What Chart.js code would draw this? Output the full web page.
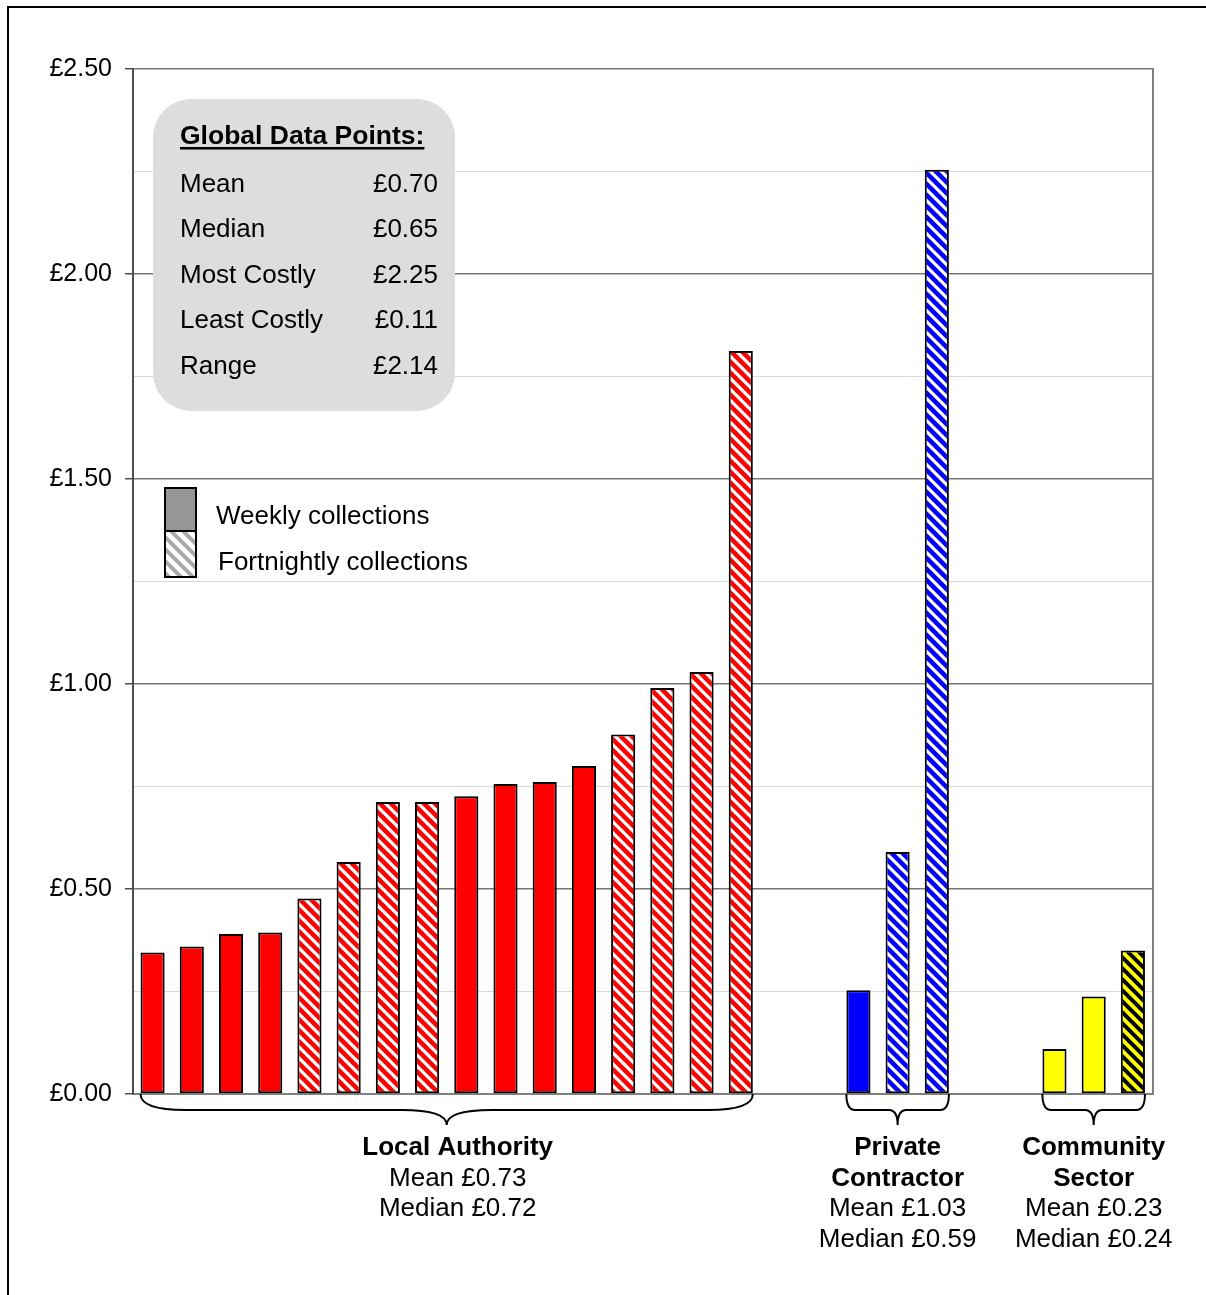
<!DOCTYPE html>
<html>
<head>
<meta charset="utf-8">
<script src="https://cdn.jsdelivr.net/npm/chart.js@4.4.0/dist/chart.umd.min.js"></script>
<style>
    html, body { margin: 0; padding: 0; background: #fff; }
    #wrap { position: relative; width: 1206px; height: 1295px; }
</style>
</head>
<body>
<div id="wrap"><canvas id="chart"></canvas></div>
<script>
// ── Data (cost per household, £) ─────────────────────────────────────────────
const localAuthority    = [0.345, 0.36, 0.39, 0.394, 0.477, 0.566, 0.712, 0.712, 0.726, 0.756, 0.761, 0.80, 0.877, 0.99, 1.029, 1.812];
const localFreq         = ["W", "W", "W", "W", "F", "F", "F", "F", "W", "W", "W", "W", "F", "F", "F", "F"];
const privateContractor = [0.253, 0.59, 2.254];
const privateFreq       = ["W", "F", "F"];
const communitySector   = [0.11, 0.238, 0.35];
const communityFreq     = ["W", "W", "F"];

const groupNames  = [["Local Authority"], ["Private", "Contractor"], ["Community", "Sector"]];
const groupStats  = [["Mean £0.73", "Median £0.72"], ["Mean £1.03", "Median £0.59"], ["Mean £0.23", "Median £0.24"]];
const globalTitle  = "Global Data Points:";
const globalLabels = ["Mean", "Median", "Most Costly", "Least Costly", "Range"];
const globalValues = ["£0.70", "£0.65", "£2.25", "£0.11", "£2.14"];
const legendLabels = ["Weekly collections", "Fortnightly collections"];
const yTicksMajor  = [0, 0.5, 1, 1.5, 2, 2.5];

// ── Colours ──────────────────────────────────────────────────────────────────
const C = {
    red:      "#ff0000",
    blue:     "#0000ff",
    yellow:   "#ffff00",
    major:    "#767676",
    minor:    "#d9d9d9",
    axis:     "#4d4d4d",
    frame:    "#808080",
    boxFill:  "#dddddd",
    legWeek:  "#969696",
    legHatch: "#aaaaaa",
};
const FONT = "'Liberation Sans', Arial, sans-serif";

Chart.defaults.font.family = FONT;
Chart.defaults.color       = "#000";
Chart.defaults.animation   = false;

// ── Hatch patterns ───────────────────────────────────────────────────────────
function hatch(bg, fg, size, lw) {
    const c = document.createElement("canvas");
    c.width = size; c.height = size;
    const g = c.getContext("2d");
    g.fillStyle = bg;
    g.fillRect(0, 0, size, size);
    g.strokeStyle = fg;
    g.lineWidth = lw;
    g.beginPath();
    g.moveTo(-2, -2);           g.lineTo(size + 2, size + 2);
    g.moveTo(size - 2, -2);     g.lineTo(size + 2, 2);
    g.moveTo(-2, size - 2);     g.lineTo(2, size + 2);
    g.stroke();
    return g.createPattern(c, "repeat");
}

// ── Build categories (2 empty slots between groups) ──────────────────────────
const groups = [
    { prefix: "LA", values: localAuthority,    freq: localFreq,     color: C.red,    stripe: "#ffffff", lw: 3.2 },
    { prefix: "PC", values: privateContractor, freq: privateFreq,   color: C.blue,   stripe: "#ffffff", lw: 3.2 },
    { prefix: "CS", values: communitySector,   freq: communityFreq, color: C.yellow, stripe: "#000000", lw: 4 },
];
const GAP = 2;
const labels = [], values = [], fills = [], spans = [];
groups.forEach((grp, gi) => {
    if (gi > 0) for (let k = 0; k < GAP; k++) { labels.push(""); values.push(null); fills.push("rgba(0,0,0,0)"); }
    const start = labels.length;
    const pat = hatch(grp.color, grp.stripe, 11, grp.lw);
    grp.values.forEach((v, i) => {
        labels.push(grp.prefix + " " + (i + 1));
        values.push(v);
        fills.push(grp.freq[i] === "F" ? pat : grp.color);
    });
    spans.push([start, labels.length - 1]);
});

const isMajor = (v) => Math.abs(v * 2 - Math.round(v * 2)) < 1e-6;

// ── Decorations plugin ───────────────────────────────────────────────────────
function roundRect(ctx, x, y, w, h, r) {
    ctx.beginPath();
    ctx.moveTo(x + r, y);
    ctx.arcTo(x + w, y, x + w, y + h, r);
    ctx.arcTo(x + w, y + h, x, y + h, r);
    ctx.arcTo(x, y + h, x, y, r);
    ctx.arcTo(x, y, x + w, y, r);
    ctx.closePath();
}

function brace(ctx, x1, x2, y0, h, t) {
    const xm = (x1 + x2) / 2, r = Math.min(45, (x2 - x1) * 0.085), y1 = y0 + h;
    ctx.beginPath();
    ctx.moveTo(x1, y0);
    ctx.quadraticCurveTo(x1, y1, x1 + r, y1);
    ctx.lineTo(xm - r, y1);
    ctx.quadraticCurveTo(xm, y1, xm, y1 + t);
    ctx.quadraticCurveTo(xm, y1, xm + r, y1);
    ctx.lineTo(x2 - r, y1);
    ctx.quadraticCurveTo(x2, y1, x2, y0);
    ctx.stroke();
}

const decorations = {
    id: "decorations",
    afterDraw(chart) {
        const ctx = chart.ctx;
        const bars = chart.getDatasetMeta(0).data;
        const area = chart.chartArea;
        ctx.save();

        // outer frame (top + left)
        ctx.strokeStyle = "#000";
        ctx.lineWidth = 2;
        ctx.beginPath();
        ctx.moveTo(8, 1295); ctx.lineTo(8, 7); ctx.lineTo(1206, 7);
        ctx.stroke();

        // global data box
        ctx.fillStyle = C.boxFill;
        roundRect(ctx, 153, 99, 302, 312, 38);
        ctx.fill();
        ctx.fillStyle = "#000";
        ctx.textBaseline = "alphabetic";
        ctx.font = "bold 26.5px " + FONT;
        ctx.textAlign = "left";
        ctx.fillText(globalTitle, 180, 144);
        const tw = ctx.measureText(globalTitle).width;
        ctx.fillRect(180, 147, tw, 2.5);
        ctx.font = "26px " + FONT;
        globalLabels.forEach((lab, i) => {
            const y = 192 + i * 45.4;
            ctx.textAlign = "left";
            ctx.fillText(lab, 180, y);
            ctx.textAlign = "right";
            ctx.fillText(globalValues[i], 438, y);
        });

        // legend
        ctx.fillStyle = C.legWeek;
        ctx.fillRect(165, 488, 31, 43);
        ctx.fillStyle = hatch("#ffffff", C.legHatch, 12, 4);
        ctx.fillRect(165, 531, 31, 46);
        ctx.strokeStyle = "#000";
        ctx.lineWidth = 2;
        ctx.strokeRect(165, 488, 31, 43);
        ctx.strokeRect(165, 531, 31, 46);
        ctx.fillStyle = "#000";
        ctx.textAlign = "left";
        ctx.font = "26px " + FONT;
        ctx.fillText(legendLabels[0], 216, 524);
        ctx.fillText(legendLabels[1], 218, 570);

        // group braces and labels
        const textDx = [11, 0, 0];
        spans.forEach(([s, e], gi) => {
            const x1 = bars[s].x - bars[s].width / 2;
            const x2 = bars[e].x + bars[e].width / 2;
            ctx.strokeStyle = "#000";
            ctx.lineWidth = 2;
            brace(ctx, x1, x2, area.bottom, 16, 15);
            const cx = (x1 + x2) / 2 + textDx[gi];
            ctx.textAlign = "center";
            let y = 1155;
            ctx.font = "bold 26px " + FONT;
            groupNames[gi].forEach((t) => { ctx.fillText(t, cx, y); y += 30.5; });
            ctx.font = "26px " + FONT;
            groupStats[gi].forEach((t) => { ctx.fillText(t, cx, y); y += 30.5; });
        });
        ctx.restore();
    },
};

// ── Chart ────────────────────────────────────────────────────────────────────
new Chart(document.getElementById("chart").getContext("2d"), {
    type: "bar",
    data: {
        labels,
        datasets: [{
            data: values,
            backgroundColor: fills,
            borderColor: "#000",
            borderWidth: 2,
            borderSkipped: false,
            barPercentage: 0.615,
            categoryPercentage: 1,
        }],
    },
    options: {
        responsive: true,
        maintainAspectRatio: false,
        layout: { padding: { left: 0, right: 53.5, top: 69, bottom: 201 } },
        scales: {
            x: {
                ticks: { display: false },
                grid: { display: false },
                border: { display: true, color: C.frame, width: 2 },
                afterFit: (s) => { s.height = 0; },
            },
            y: {
                min: 0,
                max: 2.5,
                ticks: {
                    stepSize: 0.25,
                    padding: 13,
                    color: "#000",
                    font: { size: 25 },
                    callback: (v) => (yTicksMajor.some((m) => Math.abs(m - v) < 1e-6) ? "£" + v.toFixed(2) : ""),
                },
                grid: {
                    color:     (c) => (isMajor(c.tick.value) ? C.major : C.minor),
                    lineWidth: (c) => (isMajor(c.tick.value) ? 1.5 : 1),
                    tickColor: (c) => (isMajor(c.tick.value) ? C.axis : "rgba(0,0,0,0)"),
                    tickLength: 8,
                },
                border: { display: true, color: C.axis, width: 2 },
                afterFit: (s) => { s.width = 133; },
            },
            yRight: {
                position: "right",
                min: 0,
                max: 2.5,
                ticks: { display: false },
                grid: { display: false },
                border: { display: true, color: C.frame, width: 2 },
                afterFit: (s) => { s.width = 0; },
            },
        },
        plugins: {
            legend: { display: false },
            tooltip: { enabled: false },
        },
    },
    plugins: [decorations],
});
</script>
</body>
</html>
